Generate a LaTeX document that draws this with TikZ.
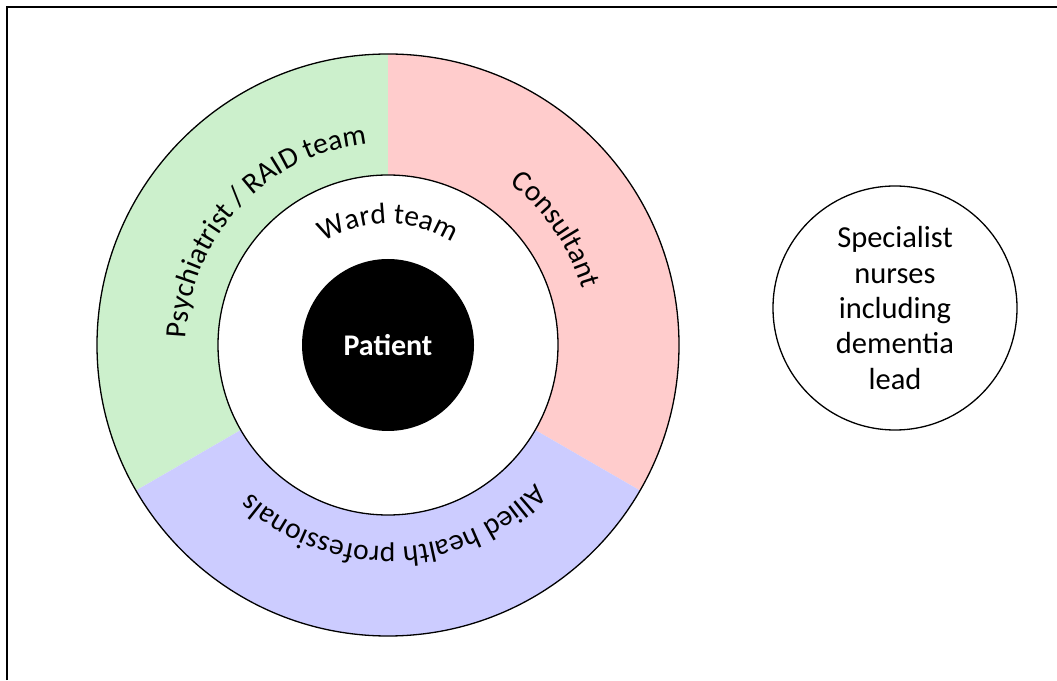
\documentclass[tikz,border=0pt]{standalone}
\usepackage{fontspec}
\setmainfont{Carlito}
\usetikzlibrary{decorations.text}
\definecolor{segGreen}{RGB}{204,240,204}
\definecolor{segRed}{RGB}{255,204,204}
\definecolor{segBlue}{RGB}{204,204,255}
\newcommand{\ringfont}{\fontsize{29.5}{35}\selectfont}
\newcommand{\nursefont}{\fontsize{30.5}{35.3}\selectfont}
\begin{document}
\begin{tikzpicture}[x=1pt,y=1pt,
  ringline/.style={draw=black, line width=1.3pt},
  disc/.style={circle, inner sep=0pt}]
\useasboundingbox (0,0) rectangle (1057,680);
\coordinate (C) at (388,335);
\coordinate (frameBL) at (7,0);
\coordinate (frameTL) at (7,673);
\coordinate (frameTR) at (1057,673);
\draw[line width=2.6pt] (frameBL) -- (frameTL) -- (frameTR);
% ring sectors
\fill[segGreen] (C) -- ([shift={(90:291)}]C) arc[start angle=90, end angle=210, radius=291] -- cycle;
\fill[segRed] (C) -- ([shift={(90:291)}]C) arc[start angle=90, end angle=-30, radius=291] -- cycle;
\fill[segBlue] (C) -- ([shift={(210:291)}]C) arc[start angle=210, end angle=330, radius=291] -- cycle;
\node[disc, ringline, minimum size=582pt] (outer) at (C) {};
\node[disc, ringline, fill=white, minimum size=340pt] (ward) at (C) {};
\node[disc, fill=black, minimum size=172pt, text=white, font=\fontsize{30}{36}\selectfont\bfseries] (patient) at (C) {Patient};
% curved labels
\path[decorate, decoration={text along path, text align=center, text={|\ringfont|Psychiatrist / RAID team}}]
  ([shift={(191:202)}]C) arc[start angle=191, end angle=83, radius=202];
\path[decorate, decoration={text along path, text align=center, text={|\ringfont|Consultant}}]
  ([shift={(80:202)}]C) arc[start angle=80, end angle=-11, radius=202];
\path[decorate, decoration={text along path, text align=center, text={|\ringfont|Allied health professionals}}]
  ([shift={(-20:202)}]C) arc[start angle=-20, end angle=-156, radius=202];
\path[decorate, decoration={text along path, text align=center, text={|\ringfont|Ward team}}]
  ([shift={(150:121)}]C) arc[start angle=150, end angle=30, radius=121];
% specialist circle
\node[disc, ringline, minimum size=244pt, align=center, font=\nursefont] (nurses) at (895,372)
  {Specialist\\nurses\\including\\dementia\\lead};
\end{tikzpicture}
\end{document}
